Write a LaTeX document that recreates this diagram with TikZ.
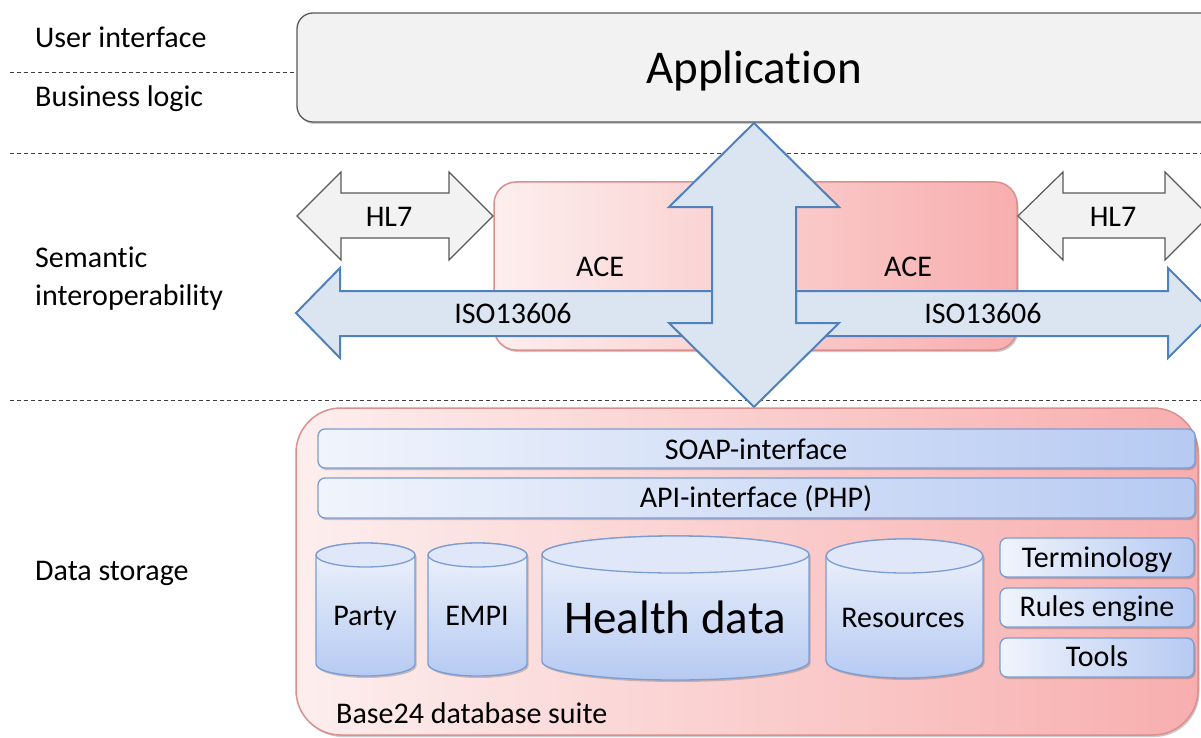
\documentclass[tikz,border=0pt]{standalone}
\usepackage{fontspec}
\setmainfont{Carlito}[Ligatures={NoCommon,NoDiscretionary}]
\usetikzlibrary{shadows}
\definecolor{grayfill}{HTML}{F2F2F2}
\definecolor{grayedge}{HTML}{595959}
\definecolor{arrowfill}{HTML}{DBE5F1}
\definecolor{arrowedge}{HTML}{4F81BD}
\definecolor{pinkL}{HTML}{FDEEEE}
\definecolor{pinkR}{HTML}{F8AEAE}
\definecolor{pinkedge}{HTML}{D9908E}
\definecolor{blueL}{HTML}{F0F4FC}
\definecolor{blueR}{HTML}{B6CAF2}
\definecolor{blueedge}{HTML}{7C9DD4}
\newcommand\dbcyl[6]{%
  \path[cylbody] (#1,#3+#5) -- (#1,#4-#5)
    arc[start angle=180,end angle=360,x radius=#6pt,y radius=#5pt]
    -- (#2,#3+#5)
    arc[start angle=0,end angle=180,x radius=#6pt,y radius=#5pt] -- cycle;
  \path[cyltop] ({(#1+#2)/2},#3+#5) ellipse[x radius=#6pt,y radius=#5pt];
}
\begin{document}
\begin{tikzpicture}[x=1pt,y=-1pt,
  lbl/.style={font=\fontsize{30}{36}\selectfont, inner sep=0pt},
  biglbl/.style={font=\fontsize{47}{56}\selectfont, inner sep=0pt},
  layerline/.style={draw=black!75, dash pattern=on 4pt off 3pt, line width=0.9pt},
  shd/.style={drop shadow={shadow xshift=1.5pt, shadow yshift=-2pt, opacity=0.35, fill=black!60}},
  graybox/.style={fill=grayfill, draw=grayedge, line width=1.3pt},
  grayarrow/.style={fill=grayfill, draw=grayedge, line width=1.2pt, line join=miter},
  bluearrow/.style={fill=arrowfill, draw=arrowedge, line width=2pt, line join=miter},
  pinkbox/.style={left color=pinkL, right color=pinkR, draw=pinkedge, line width=1.5pt},
  bluebar/.style={left color=blueL, right color=blueR, draw=blueedge, line width=1.3pt, rounded corners=7pt, shd},
  cylbody/.style={top color=blueL, bottom color=blueR, draw=blueedge, line width=1.3pt, shd},
  cyltop/.style={fill=blueL!70!blueR, draw=blueedge, line width=1.3pt}
]
\useasboundingbox (0,0) rectangle (1201,738);
\fill[white] (0,0) rectangle (1201,738);
\clip (0,0) rectangle (1201,738);

% layer separators
\draw[layerline] (10,72) -- (297,72);
\draw[layerline] (10,153) -- (1201,153);
\draw[layerline] (10,400) -- (1201,400);

% layer labels
\node[lbl, anchor=base west] (ui) at (35,48) {User interface};
\node[lbl, anchor=base west] (bl) at (35,107) {Business logic};
\node[lbl, anchor=base west] (sem1) at (35,267) {Semantic};
\node[lbl, anchor=base west] (sem2) at (35,305) {interoperability};
\node[lbl, anchor=base west] (ds) at (35,580) {Data storage};

% application
\path[graybox, rounded corners=16pt, shd] (297,13) rectangle (1220,122);
\node[biglbl, anchor=base] (app) at (754,84) {Application};

% ACE box
\path[pinkbox, rounded corners=22pt, shd] (494,182) rectangle (1017,350);
\node[lbl, anchor=base] (ace1) at (600,276) {ACE};
\node[lbl, anchor=base] (ace2) at (908,276) {ACE};

% HL7 arrows
\path[grayarrow] (297,216) -- (341,172) -- (341,193) -- (449,193) -- (449,172) -- (493,216)
  -- (449,260) -- (449,238) -- (341,238) -- (341,260) -- cycle;
\node[lbl, anchor=base] (hl7a) at (389,226) {HL7};
\path[grayarrow] (1018,216) -- (1063,172) -- (1063,193) -- (1165,193) -- (1165,172) -- (1209,216)
  -- (1165,260) -- (1165,238) -- (1063,238) -- (1063,260) -- cycle;
\node[lbl, anchor=base] (hl7b) at (1113,226) {HL7};

% ISO13606 arrows
\path[bluearrow] (296,313) -- (340,268) -- (340,291) -- (712,291) -- (712,336) -- (340,336) -- (340,358) -- cycle;
\node[lbl, anchor=base] (iso1) at (513,323) {ISO13606};
\path[bluearrow] (796,291) -- (1168,291) -- (1168,268) -- (1213,313) -- (1168,358) -- (1168,336) -- (796,336) -- cycle;
\node[lbl, anchor=base] (iso2) at (983,323) {ISO13606};

% vertical double arrow
\path[bluearrow] (754,123) -- (839,207) -- (796,207) -- (796,323) -- (839,323) -- (754,407)
  -- (669,323) -- (712,323) -- (712,207) -- (669,207) -- cycle;

% Base24 suite
\path[pinkbox, rounded corners=45pt, shd] (296,408) rectangle (1198,735);
\node[lbl, anchor=base west] (base) at (336,723) {Base24 database suite};

\path[bluebar] (318,429) rectangle (1195,468);
\node[lbl, anchor=base] (soap) at (756,459) {SOAP-interface};
\path[bluebar] (318,478) rectangle (1195,518);
\node[lbl, anchor=base] (api) at (756,507) {API-interface (PHP)};

% databases
\dbcyl{316}{415}{543}{676}{12}{49.5}
\node[lbl, anchor=base] (party) at (365,625) {Party};
\dbcyl{428}{527}{543}{676}{12}{49.5}
\node[lbl, anchor=base] (empi) at (477,625) {EMPI};
\dbcyl{542}{809}{536}{680}{18.5}{133.5}
\node[biglbl, anchor=base] (health) at (675,633) {Health data};
\dbcyl{826}{983}{539}{678}{17}{78.5}
\node[lbl, anchor=base] (res) at (903,627) {Resources};

% side boxes
\path[bluebar] (1000,538) rectangle (1194,577);
\node[lbl, anchor=base] (term) at (1097,567) {Terminology};
\path[bluebar] (1000,588) rectangle (1194,627);
\node[lbl, anchor=base] (rules) at (1097,616) {Rules engine};
\path[bluebar] (1000,638) rectangle (1194,677);
\node[lbl, anchor=base] (tools) at (1097,666) {Tools};
\end{tikzpicture}
\end{document}
